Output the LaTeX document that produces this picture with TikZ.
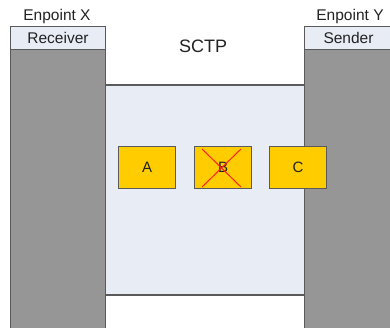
\documentclass[tikz,border=0pt]{standalone}
\usepackage{fontspec}
\setmainfont{Liberation Sans}
\definecolor{colgray}{HTML}{969696}
\definecolor{lightbg}{HTML}{E8ECF5}
\definecolor{pktyellow}{HTML}{FFCC00}
\definecolor{edge}{HTML}{5A5A5A}
\definecolor{crossred}{HTML}{FF2020}
\definecolor{txt}{HTML}{222222}
\begin{document}
\begin{tikzpicture}[x=1pt,y=-1pt,
  column/.style={fill=colgray,draw=edge,line width=1pt},
  header/.style={fill=lightbg,draw=edge,line width=1pt,minimum width=95pt,minimum height=23pt,inner sep=0pt,anchor=north west,text=txt,font=\fontsize{15.5}{17}\selectfont},
  pkt/.style={fill=pktyellow,draw=edge,line width=1pt,minimum width=57pt,minimum height=42pt,inner sep=0pt,anchor=north west,text=txt,font=\fontsize{15}{17}\selectfont},
  lbl/.style={font=\fontsize{15.5}{17}\selectfont,inner sep=0pt,text=txt}]
\useasboundingbox (0,0) rectangle (390,328);
% channel
\fill[lightbg] (105,85) rectangle (304,295);
\draw[edge,line width=1.2pt] (105,85) -- (304,85);
\draw[edge,line width=1.2pt] (105,295) -- (304,295);
% columns
\draw[column] (10,49) rectangle (105,330);
\draw[column] (304,49) rectangle (392,330);
\node[header] (rx) at (10,26) {Receiver};
\node[header,minimum width=88pt] (tx) at (304,26) {Sender};
\node[lbl] (ex) at (57,16) {Enpoint X};
\node[lbl] (ey) at (350,16) {Enpoint Y};
\node[font=\fontsize{18}{20}\selectfont,inner sep=0pt,text=txt] (sctp) at (203,46) {SCTP};
% packets
\node[pkt] (a) at (118,146) {A};
\node[pkt] (b) at (194,146) {B};
\node[pkt] (c) at (269,146) {C};
\draw[crossred,line width=1pt] (202,149) -- (241,187);
\draw[crossred,line width=1pt] (241,149) -- (202,187);
\end{tikzpicture}
\end{document}
